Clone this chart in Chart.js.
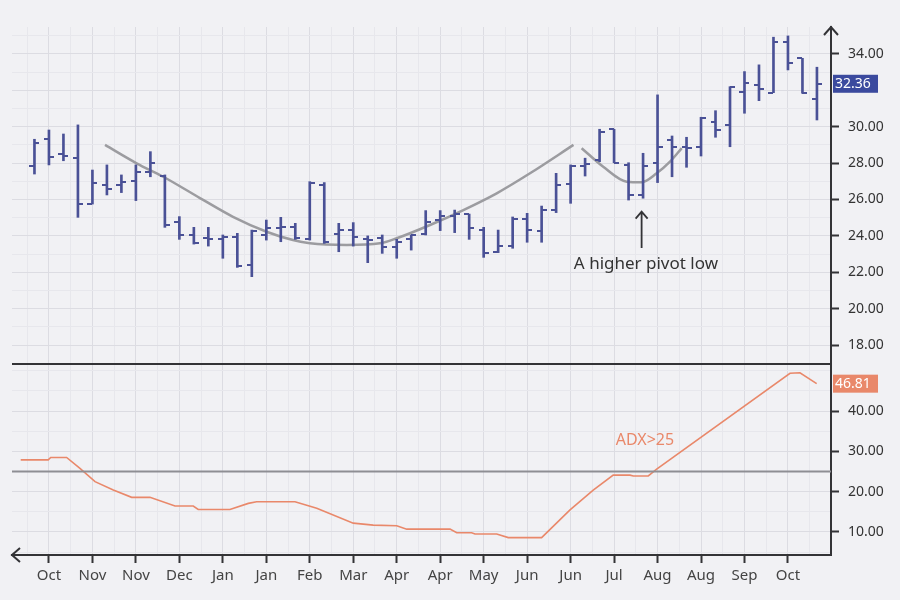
<!DOCTYPE html>
<html><head><meta charset="utf-8">
<script src="https://cdn.jsdelivr.net/npm/chart.js@4/dist/chart.umd.min.js"></script>
<style>html,body{margin:0;padding:0;background:#f1f1f4;}</style>
</head><body>
<canvas id="c" width="900" height="600"></canvas>
<script>
// ---------- data ----------
const xTickLabels = ['Oct','Nov','Nov','Dec','Jan','Jan','Feb','Mar','Apr','Apr','May','Jun','Jun','Jul','Aug','Aug','Sep','Oct'];
const opens  = [27.84,29.31,28.50,28.30,25.75,26.80,26.80,27.04,27.53,27.29,24.78,24.05,23.87,23.81,23.96,22.40,24.05,24.42,24.47,23.81,26.80,24.10,24.32,23.85,23.87,23.41,23.81,24.10,24.87,25.09,25.20,24.32,23.13,23.44,24.93,24.25,25.42,26.85,27.84,28.17,29.86,27.90,26.25,28.02,29.27,28.87,28.87,30.28,30.10,31.93,32.30,31.87,34.68,33.76,31.51];
const highs  = [29.31,29.82,29.60,30.10,27.62,27.90,27.35,27.90,28.63,27.35,25.06,24.47,24.47,24.05,24.14,24.32,24.87,25.02,24.69,26.98,26.93,24.69,24.73,24.00,24.05,23.81,24.05,25.39,25.39,25.42,25.20,24.47,24.32,25.04,25.24,25.64,27.44,27.90,28.27,29.86,29.86,28.02,28.54,31.75,29.49,29.42,30.52,30.88,32.20,33.03,33.40,34.92,34.99,33.76,33.27];
const lows   = [27.40,27.90,28.13,25.02,25.75,26.25,26.38,25.94,27.25,24.47,23.81,23.55,23.44,22.77,22.27,21.76,23.77,23.68,23.81,23.77,23.59,23.13,23.44,22.53,23.04,22.77,23.22,24.05,24.29,24.18,23.81,22.82,23.08,23.32,23.65,23.65,25.28,25.79,27.29,28.08,28.02,25.97,26.07,26.93,27.25,27.77,28.39,29.42,28.90,30.74,31.43,31.87,33.12,31.84,30.37];
const closes = [29.12,28.35,28.40,25.75,26.93,26.58,26.98,27.53,27.99,24.60,24.05,23.59,23.81,23.96,22.35,24.29,24.42,24.50,23.87,26.89,23.68,24.32,23.92,23.80,23.41,23.68,24.05,24.78,25.09,25.20,24.42,23.04,23.44,24.93,24.32,25.42,26.80,27.84,27.95,29.73,28.02,26.25,27.84,28.87,28.87,28.85,30.47,29.82,32.17,32.42,32.06,34.68,33.49,31.87,32.36];
const priceTicks = [18,20,22,24,26,28,30,32,34];
const adxTicks = [10,20,30,40];
// rounded-bottom trend curve (week index, price)
const cupX = [4.87,7.05,8.89,11.42,13.70,16.02,17.84,19.01,21.55,23.84,25.0,27.3,29.6,31.9,34.2,37.2];
const cupY = [29.0,27.99,27.25,26.08,25.05,24.23,23.77,23.59,23.50,23.59,23.87,24.60,25.42,26.34,27.44,29.0];
const pivotX = [37.76,39.25,40.87,41.90,42.94,43.86,44.67];
const pivotY = [28.82,27.80,26.98,26.95,27.44,28.08,28.82];
// ADX line (week index, value)
const adxX = [-0.95,0.95,1.12,2.22,3.14,4.18,5.44,6.71,7.97,9.70,10.96,11.30,13.49,14.76,15.33,17.98,19.48,22.0,23.38,25.0,25.69,28.68,29.14,30.17,30.40,31.90,32.70,35.0,36.96,38.56,39.94,41.10,41.33,42.36,42.94,52.14,52.83,53.98];
const adxY = [27.9,27.9,28.5,28.5,25.8,22.5,20.4,18.6,18.6,16.45,16.45,15.6,15.6,17.1,17.5,17.5,15.9,12.2,11.7,11.55,10.7,10.7,9.8,9.8,9.5,9.5,8.6,8.6,15.5,20.4,24.1,24.1,23.9,23.9,25.6,49.4,49.5,46.81];
const adxThreshold = 25;
const lastPrice = 32.36;
const lastAdx = 46.81;

// ---------- styling ----------
const FONT = "'Noto Sans', 'Open Sans', sans-serif";
const BG = '#f1f1f4';
const BAR = '#4a5196';
const MAJ = '#dcdce2';
const MIN = '#e7e7ec';
const AXIS = '#333336';
const ORANGE = '#e9886a';

const xMajor = xTickLabels.map((_, k) => 1 + 3 * k);
const xGrid = [];
xMajor.forEach((v, k) => { if (k === 0) xGrid.push(v - 1.5); xGrid.push(v); xGrid.push(v + 1.5); });
const isXMajor = v => xMajor.some(m => Math.abs(m - v) < 1e-6);
const priceGrid = []; for (let v = 17; v <= 35; v++) priceGrid.push(v);
const adxGrid = []; for (let v = 5; v <= 50; v += 5) adxGrid.push(v);

const ohlcPlugin = {
  id: 'ohlc',
  beforeDraw(chart) {
    const c = chart.ctx; c.save(); c.fillStyle = BG; c.fillRect(0, 0, chart.width, chart.height); c.restore();
  },
  afterDatasetsDraw(chart) {
    const c = chart.ctx, xs = chart.scales.x, ys = chart.scales.y, ya = chart.scales.yAdx, ca = chart.chartArea;
    c.save();
    // open / close ticks
    c.strokeStyle = BAR; c.lineWidth = 2; c.lineCap = 'butt';
    for (let i = 0; i < opens.length; i++) {
      const px = Math.round(xs.getPixelForValue(i));
      const yo = Math.round(ys.getPixelForValue(opens[i])), yc = Math.round(ys.getPixelForValue(closes[i]));
      c.beginPath(); c.moveTo(px - 5, yo); c.lineTo(px, yo); c.moveTo(px, yc); c.lineTo(px + 5, yc); c.stroke();
    }
    // ADX threshold
    c.strokeStyle = '#8e8e93'; c.lineWidth = 2;
    const yt = ya.getPixelForValue(adxThreshold);
    c.beginPath(); c.moveTo(ca.left, yt); c.lineTo(ca.right, yt); c.stroke();
    // panel divider
    c.strokeStyle = AXIS; c.lineWidth = 2;
    c.beginPath(); c.moveTo(ca.left, ya.top); c.lineTo(ca.right, ya.top); c.stroke();
    // arrows
    c.beginPath();
    c.moveTo(ca.right - 7, ca.top + 8); c.lineTo(ca.right, ca.top); c.lineTo(ca.right + 7, ca.top + 8);
    c.moveTo(ca.left + 8, ca.bottom - 7); c.lineTo(ca.left, ca.bottom); c.lineTo(ca.left + 8, ca.bottom + 7);
    c.stroke();
    // annotation arrow + text
    const ax = xs.getPixelForValue(41.9), at = ys.getPixelForValue(25.33), ab = ys.getPixelForValue(23.33);
    c.strokeStyle = AXIS; c.lineWidth = 1.8;
    c.beginPath(); c.moveTo(ax, ab); c.lineTo(ax, at); c.moveTo(ax - 6, at + 7); c.lineTo(ax, at); c.lineTo(ax + 6, at + 7); c.stroke();
    c.fillStyle = '#333'; c.font = '17px ' + FONT; c.textAlign = 'center'; c.textBaseline = 'middle';
    c.fillText('A higher pivot low', xs.getPixelForValue(42.2), ys.getPixelForValue(22.45));
    c.fillStyle = ORANGE; c.font = '16px ' + FONT;
    c.fillText('ADX>25', xs.getPixelForValue(42.13), ya.getPixelForValue(32.6));
    // value boxes
    c.font = '14px ' + FONT; c.textAlign = 'left';
    const box = (val, scale, color) => {
      const y = scale.getPixelForValue(val);
      c.fillStyle = color; c.fillRect(ca.right + 2, y - 9, 45, 18);
      c.fillStyle = '#fff'; c.fillText(val.toFixed(2), ca.right + 4, y + 0.5);
    };
    box(lastPrice, ys, '#3b4a9e');
    box(lastAdx, ya, ORANGE);
    c.restore();
  }
};

const yScaleCommon = (grid, labeled, current) => {
  const shown = v => labeled.includes(v) && Math.abs(v - current) > 1;
  return {
    position: 'right',
    stack: 'panels',
    afterBuildTicks: s => { s.ticks = grid.map(v => ({ value: v })); },
    afterFit: s => { s.width = 69; },
    ticks: {
      autoSkip: false, padding: 9, color: '#333',
      font: { family: FONT, size: 14 },
      callback: v => shown(v) ? v.toFixed(2) : ''
    },
    grid: {
      color: ctx => labeled.includes(ctx.tick && ctx.tick.value) ? MAJ : MIN,
      tickColor: ctx => shown(ctx.tick && ctx.tick.value) ? AXIS : 'rgba(0,0,0,0)',
      tickLength: 8, tickWidth: 2, lineWidth: 1
    },
    border: { color: AXIS, width: 2 }
  };
};

new Chart(document.getElementById('c'), {
  type: 'bar',
  data: {
    datasets: [
      { type: 'bar', data: highs.map((h, i) => ({ x: i, y: [lows[i], h] })), backgroundColor: BAR, borderWidth: 0, barThickness: 2, yAxisID: 'y' },
      { type: 'line', data: cupX.map((x, i) => ({ x, y: cupY[i] })), borderColor: '#9c9ca0', borderWidth: 2.5, pointRadius: 0, cubicInterpolationMode: 'monotone', yAxisID: 'y' },
      { type: 'line', data: pivotX.map((x, i) => ({ x, y: pivotY[i] })), borderColor: '#9c9ca0', borderWidth: 2.5, pointRadius: 0, cubicInterpolationMode: 'monotone', yAxisID: 'y' },
      { type: 'line', data: adxX.map((x, i) => ({ x, y: adxY[i] })), borderColor: ORANGE, borderWidth: 1.6, pointRadius: 0, tension: 0, yAxisID: 'yAdx' }
    ]
  },
  options: {
    responsive: false, animation: false, devicePixelRatio: 1,
    layout: { padding: { left: 12, top: 27, right: 0, bottom: 0 } },
    plugins: { legend: { display: false }, tooltip: { enabled: false } },
    scales: {
      x: {
        type: 'linear', position: 'bottom', min: -1.55, max: 54.97, offset: false,
        afterBuildTicks: s => { s.ticks = xGrid.map(v => ({ value: v })); },
        afterFit: s => { s.height = 45; },
        ticks: {
          autoSkip: false, maxRotation: 0, padding: 4, color: '#444',
          font: { family: FONT, size: 15 },
          callback: v => { const k = xMajor.findIndex(m => Math.abs(m - v) < 1e-6); return k >= 0 ? xTickLabels[k] : ''; }
        },
        grid: {
          offset: false,
          color: ctx => isXMajor(ctx.tick && ctx.tick.value) ? MAJ : MIN,
          tickColor: ctx => isXMajor(ctx.tick && ctx.tick.value) ? AXIS : 'rgba(0,0,0,0)',
          tickLength: 8, tickWidth: 2, lineWidth: 1
        },
        border: { color: AXIS, width: 2 }
      },
      y: Object.assign(yScaleCommon(priceGrid, priceTicks, lastPrice), { min: 16.96, max: 35.48, stackWeight: 337 }),
      yAdx: Object.assign(yScaleCommon(adxGrid, adxTicks, lastAdx), { min: 4.29, max: 51.69, stackWeight: 191 })
    }
  },
  plugins: [ohlcPlugin]
});
</script>
</body></html>
